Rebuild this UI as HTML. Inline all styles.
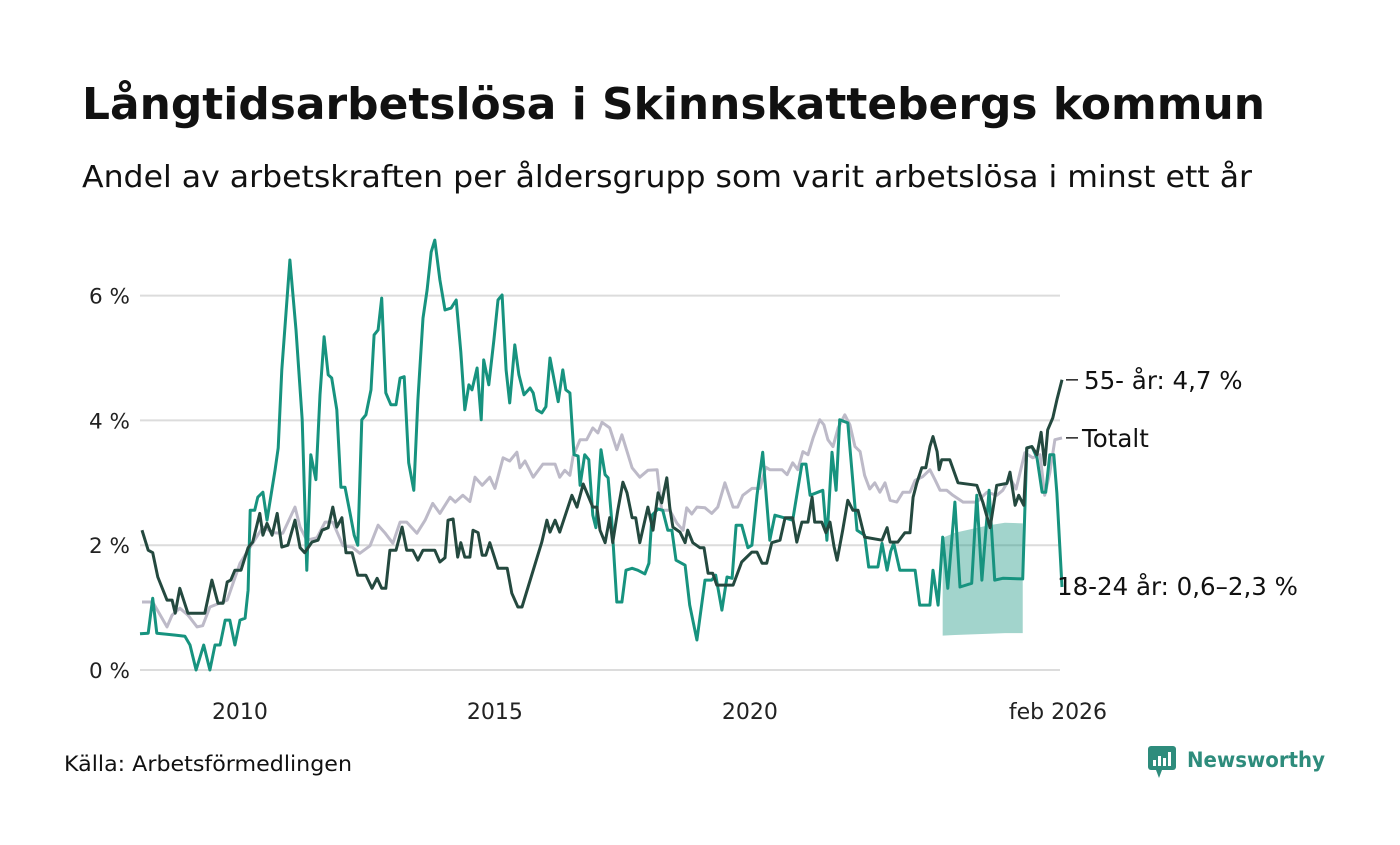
<!DOCTYPE html>
<html><head><meta charset="utf-8">
<style>
body{margin:0;background:#fff;width:1400px;height:840px;overflow:hidden;font-family:"Liberation Sans","DejaVu Sans",sans-serif;}
svg text{font-family:"DejaVu Sans","Liberation Sans",sans-serif;}
</style></head>
<body>
<svg id="chart" width="1400" height="840" viewBox="0 0 1400 840">
<text x="82" y="119" font-size="44" font-weight="bold" fill="#111" textLength="1183" lengthAdjust="spacingAndGlyphs">Långtidsarbetslösa i Skinnskattebergs kommun</text>
<text x="82" y="187" font-size="30" fill="#111" textLength="1170" lengthAdjust="spacingAndGlyphs">Andel av arbetskraften per åldersgrupp som varit arbetslösa i minst ett år</text>
<g id="grid"></g>
<g id="band"></g>
<g id="lines"></g>
<g id="labels"></g>
<text x="64" y="771" font-size="21" fill="#111" textLength="288" lengthAdjust="spacingAndGlyphs">Källa: Arbetsförmedlingen</text>
<g>
<rect x="1148" y="746" width="28" height="24" rx="3" fill="#2e8c7c"/>
<polygon points="1156,770 1162,770 1159,778" fill="#2e8c7c"/>
<rect x="1153" y="760" width="3" height="6" fill="#fff"/><rect x="1158" y="756" width="3" height="10" fill="#fff"/><rect x="1163" y="758" width="3" height="8" fill="#fff"/><rect x="1168" y="752" width="3" height="14" fill="#fff"/>
<text x="1187" y="767" font-size="21" font-weight="bold" fill="#2e8c7c" textLength="138" lengthAdjust="spacingAndGlyphs">Newsworthy</text>
</g>
</svg>
<script>
const yTicks=[0,2,4,6];
const yTickLabels=["0 %","2 %","4 %","6 %"];
const xTicks=[2010,2015,2020,2026.08];
const xTickLabels=["2010","2015","2020","feb 2026"];

const youthDates=[2008.04,2008.20,2008.29,2008.37,2008.73,2008.92,2009.02,2009.14,2009.29,2009.41,2009.51,2009.61,2009.71,2009.80,2009.90,2010.00,2010.10,2010.16,2010.20,2010.29,2010.35,2010.45,2010.53,2010.69,2010.75,2010.82,2010.98,2011.10,2011.22,2011.31,2011.39,2011.49,2011.57,2011.65,2011.73,2011.80,2011.90,2011.98,2012.06,2012.16,2012.24,2012.31,2012.39,2012.47,2012.57,2012.63,2012.71,2012.78,2012.86,2012.96,2013.06,2013.14,2013.22,2013.31,2013.41,2013.49,2013.59,2013.67,2013.75,2013.82,2013.92,2014.02,2014.14,2014.24,2014.33,2014.41,2014.49,2014.55,2014.65,2014.73,2014.78,2014.88,2014.98,2015.06,2015.14,2015.22,2015.29,2015.39,2015.47,2015.57,2015.69,2015.75,2015.82,2015.92,2016.00,2016.08,2016.16,2016.24,2016.33,2016.39,2016.47,2016.55,2016.63,2016.67,2016.76,2016.84,2016.92,2016.98,2017.08,2017.16,2017.22,2017.29,2017.39,2017.49,2017.57,2017.69,2017.80,2017.94,2018.02,2018.08,2018.20,2018.29,2018.39,2018.47,2018.55,2018.73,2018.82,2018.96,2019.12,2019.25,2019.33,2019.45,2019.55,2019.65,2019.73,2019.84,2019.96,2020.04,2020.14,2020.25,2020.39,2020.49,2020.84,2021.02,2021.10,2021.18,2021.43,2021.51,2021.61,2021.69,2021.76,2021.92,2022.10,2022.25,2022.33,2022.51,2022.59,2022.69,2022.76,2022.82,2022.94,2023.24,2023.33,2023.53,2023.59,2023.69,2023.78,2023.88,2024.02,2024.12,2024.35,2024.45,2024.55,2024.69,2024.80,2024.96,2025.35,2025.43,2025.53,2025.63,2025.73,2025.80,2025.88,2025.96,2026.02,2026.12];
const youthValues=[0.58,0.59,1.15,0.59,0.56,0.54,0.40,0,0.40,0,0.40,0.40,0.80,0.80,0.40,0.80,0.83,1.28,2.56,2.56,2.77,2.85,2.40,3.21,3.56,4.81,6.57,5.45,4.01,1.60,3.45,3.05,4.41,5.34,4.73,4.68,4.17,2.93,2.93,2.51,2.16,2.00,4.01,4.09,4.49,5.37,5.45,5.96,4.44,4.25,4.25,4.68,4.70,3.32,2.88,4.33,5.64,6.09,6.70,6.89,6.25,5.77,5.80,5.93,5.10,4.17,4.57,4.49,4.84,4.01,4.97,4.57,5.29,5.93,6.01,4.81,4.28,5.21,4.73,4.41,4.52,4.44,4.17,4.12,4.22,5.00,4.65,4.30,4.81,4.49,4.44,3.45,3.43,2.96,3.45,3.37,2.48,2.28,3.53,3.13,3.08,2.40,1.09,1.09,1.60,1.63,1.60,1.54,1.71,2.48,2.58,2.56,2.24,2.24,1.76,1.68,1.04,0.48,1.44,1.44,1.52,0.96,1.49,1.47,2.32,2.32,1.96,2.00,2.80,3.49,2.08,2.48,2.40,3.30,3.30,2.80,2.88,2.08,3.49,2.88,4.01,3.96,2.24,2.16,1.65,1.65,2.03,1.60,1.90,2.03,1.60,1.60,1.04,1.04,1.60,1.04,2.13,1.31,2.69,1.33,1.39,2.80,1.44,2.88,1.44,1.47,1.46,3.56,3.58,3.40,2.85,2.85,3.45,3.45,2.83,1.33];

const bandDates=[2023.78,2024.02,2024.35,2024.69,2025.00,2025.35];
const bandLow=[0.55,0.56,0.57,0.58,0.59,0.59];
const bandHigh=[2.12,2.20,2.26,2.32,2.36,2.35];

const totalDates=[2008.08,2008.29,2008.57,2008.67,2008.82,2008.98,2009.16,2009.27,2009.41,2009.75,2010.00,2010.20,2010.45,2010.65,2010.84,2011.08,2011.18,2011.31,2011.51,2011.67,2011.82,2012.02,2012.20,2012.35,2012.55,2012.71,2012.84,2013.00,2013.14,2013.27,2013.47,2013.63,2013.78,2013.92,2014.12,2014.22,2014.37,2014.51,2014.61,2014.75,2014.90,2015.00,2015.16,2015.29,2015.43,2015.49,2015.59,2015.75,2015.94,2016.18,2016.27,2016.37,2016.47,2016.53,2016.67,2016.80,2016.92,2017.02,2017.10,2017.25,2017.39,2017.49,2017.69,2017.84,2018.00,2018.18,2018.27,2018.43,2018.57,2018.69,2018.76,2018.86,2018.96,2019.12,2019.25,2019.37,2019.51,2019.67,2019.76,2019.86,2020.04,2020.20,2020.31,2020.39,2020.63,2020.73,2020.84,2020.94,2021.04,2021.14,2021.24,2021.37,2021.45,2021.53,2021.63,2021.73,2021.86,2021.96,2022.06,2022.16,2022.25,2022.35,2022.45,2022.55,2022.65,2022.75,2022.88,2023.00,2023.14,2023.24,2023.39,2023.53,2023.63,2023.73,2023.86,2023.98,2024.18,2024.45,2024.65,2024.84,2024.96,2025.10,2025.22,2025.39,2025.55,2025.69,2025.78,2025.88,2025.98,2026.12];
const totalValues=[1.09,1.09,0.69,0.88,0.99,0.88,0.69,0.71,1.01,1.12,1.71,1.97,2.29,2.20,2.19,2.61,2.29,2.08,2.12,2.37,2.37,1.99,1.97,1.87,1.99,2.32,2.20,2.03,2.37,2.37,2.19,2.40,2.67,2.51,2.77,2.69,2.80,2.70,3.09,2.96,3.09,2.91,3.40,3.35,3.49,3.24,3.35,3.09,3.30,3.30,3.09,3.20,3.12,3.42,3.69,3.69,3.88,3.80,3.97,3.88,3.53,3.77,3.24,3.09,3.20,3.21,2.56,2.56,2.35,2.24,2.60,2.50,2.61,2.60,2.51,2.61,3.00,2.61,2.61,2.80,2.91,2.91,3.25,3.21,3.21,3.13,3.32,3.21,3.50,3.45,3.72,4.01,3.93,3.69,3.58,3.88,4.09,3.93,3.58,3.50,3.12,2.90,3.00,2.85,3.00,2.72,2.69,2.85,2.85,3.04,3.10,3.21,3.05,2.88,2.88,2.80,2.69,2.69,2.85,2.80,2.88,3.08,2.90,3.48,3.40,3.45,2.80,3.16,3.69,3.72];

const olderDates=[2008.08,2008.20,2008.29,2008.39,2008.57,2008.67,2008.73,2008.82,2008.98,2009.31,2009.45,2009.57,2009.67,2009.75,2009.82,2009.90,2010.02,2010.16,2010.25,2010.39,2010.45,2010.53,2010.63,2010.73,2010.82,2010.94,2011.08,2011.18,2011.27,2011.41,2011.53,2011.61,2011.73,2011.82,2011.90,2012.00,2012.08,2012.20,2012.31,2012.47,2012.59,2012.69,2012.78,2012.86,2012.94,2013.06,2013.18,2013.27,2013.39,2013.49,2013.59,2013.82,2013.92,2014.02,2014.08,2014.18,2014.27,2014.33,2014.41,2014.51,2014.57,2014.67,2014.75,2014.82,2014.90,2015.06,2015.24,2015.33,2015.45,2015.53,2015.92,2016.02,2016.08,2016.18,2016.27,2016.51,2016.61,2016.73,2016.92,2017.00,2017.06,2017.16,2017.25,2017.31,2017.41,2017.51,2017.59,2017.69,2017.76,2017.84,2018.00,2018.10,2018.20,2018.27,2018.37,2018.43,2018.49,2018.63,2018.73,2018.78,2018.88,2019.02,2019.10,2019.18,2019.27,2019.35,2019.67,2019.84,2020.04,2020.14,2020.24,2020.33,2020.43,2020.59,2020.69,2020.84,2020.92,2021.02,2021.14,2021.22,2021.27,2021.41,2021.49,2021.57,2021.65,2021.71,2021.82,2021.92,2022.02,2022.12,2022.25,2022.59,2022.69,2022.75,2022.90,2023.04,2023.14,2023.20,2023.27,2023.37,2023.45,2023.53,2023.59,2023.67,2023.71,2023.76,2023.92,2024.08,2024.45,2024.57,2024.71,2024.84,2025.04,2025.10,2025.20,2025.27,2025.37,2025.43,2025.53,2025.63,2025.71,2025.78,2025.84,2025.94,2026.02,2026.12];
const olderValues=[2.24,1.92,1.88,1.49,1.12,1.12,0.91,1.31,0.91,0.91,1.44,1.07,1.07,1.41,1.44,1.60,1.60,1.96,2.05,2.51,2.16,2.35,2.16,2.51,1.97,2.00,2.40,1.96,1.88,2.05,2.08,2.24,2.28,2.61,2.29,2.44,1.88,1.88,1.52,1.52,1.31,1.47,1.31,1.31,1.92,1.92,2.29,1.92,1.92,1.76,1.92,1.92,1.73,1.80,2.40,2.42,1.81,2.04,1.81,1.81,2.24,2.20,1.84,1.84,2.04,1.63,1.63,1.23,1.01,1.01,2.05,2.40,2.21,2.40,2.21,2.80,2.61,2.98,2.61,2.61,2.24,2.04,2.44,2.04,2.56,3.01,2.84,2.44,2.44,2.04,2.61,2.24,2.84,2.68,3.08,2.60,2.29,2.21,2.04,2.24,2.04,1.96,1.96,1.55,1.55,1.36,1.36,1.73,1.89,1.89,1.71,1.71,2.04,2.08,2.44,2.44,2.05,2.37,2.37,2.77,2.37,2.37,2.20,2.37,1.98,1.76,2.24,2.72,2.56,2.56,2.13,2.08,2.28,2.05,2.05,2.20,2.20,2.77,2.99,3.24,3.24,3.58,3.74,3.50,3.21,3.37,3.37,3.00,2.96,2.68,2.28,2.96,2.99,3.17,2.64,2.80,2.64,3.56,3.58,3.45,3.81,3.29,3.85,4.04,4.33,4.65];

const NS='http://www.w3.org/2000/svg';
const X0=140,X1=1062,D0=2008.04,D1=2026.12;
function xs(d){return X0+(d-D0)/(D1-D0)*(X1-X0);}
function ys(v){return 670-v*62.4;}
function mk(tag,attrs,parent){const e=document.createElementNS(NS,tag);for(const k in attrs)e.setAttribute(k,attrs[k]);parent.appendChild(e);return e;}

const grid=document.getElementById('grid');
yTicks.forEach((t,i)=>{
  const l=mk('line',{x1:140,x2:1060,y1:ys(t),y2:ys(t),stroke:'#dcdcdc','stroke-width':2},grid);
  
  
  const tx=mk('text',{x:130,y:ys(t)+8,'font-size':21.5,'text-anchor':'end',fill:'#222'},grid);
  
  
  tx.textContent=yTickLabels[i];
});
xTicks.forEach((t,i)=>{
  const tx=mk('text',{x:xs(t)-(i==3?2:0),y:719,'font-size':22,'text-anchor':'middle',fill:'#222'},grid);
  
  
  tx.textContent=xTickLabels[i];
});

const band=document.getElementById('band');
let pts=bandDates.map((d,i)=>xs(d)+','+ys(bandHigh[i]));
pts=pts.concat(bandDates.map((d,i)=>xs(d)+','+ys(bandLow[i])).reverse());
const bp=mk('polygon',{points:pts.join(' '),fill:'#17937f','fill-opacity':0.4},band);



const lines=document.getElementById('lines');
function drawLine(dates,vals,color,name){
  const p=mk('polyline',{points:dates.map((d,i)=>xs(d).toFixed(1)+','+ys(vals[i]).toFixed(1)).join(' '),fill:'none',stroke:color,'stroke-width':3,'stroke-linejoin':'round'},lines);
  
  
}
drawLine(totalDates,totalValues,'#bdbac8','line-totalt');
drawLine(youthDates,youthValues,'#17937f','line-18-24');
drawLine(olderDates,olderValues,'#24493f','line-55');

const labels=document.getElementById('labels');
const lastOld=olderValues[olderValues.length-1], lastTot=totalValues[totalValues.length-1];
const l1=mk('line',{x1:1066,x2:1078,y1:ys(lastOld),y2:ys(lastOld),stroke:'#222','stroke-width':1.5},labels);


const t1=mk('text',{x:1084,y:ys(lastOld)+9,'font-size':24.5,fill:'#111'},labels);


t1.textContent='55- år: 4,7 %';
const l2=mk('line',{x1:1066,x2:1078,y1:ys(lastTot),y2:ys(lastTot),stroke:'#222','stroke-width':1.5},labels);


const t2=mk('text',{x:1082,y:ys(lastTot)+9,'font-size':24.5,fill:'#111'},labels);


t2.textContent='Totalt';
const t3=mk('text',{x:1057,y:595,'font-size':24.5,fill:'#111'},labels);


t3.textContent='18-24 år: 0,6–2,3 %';
</script>
</body></html>
